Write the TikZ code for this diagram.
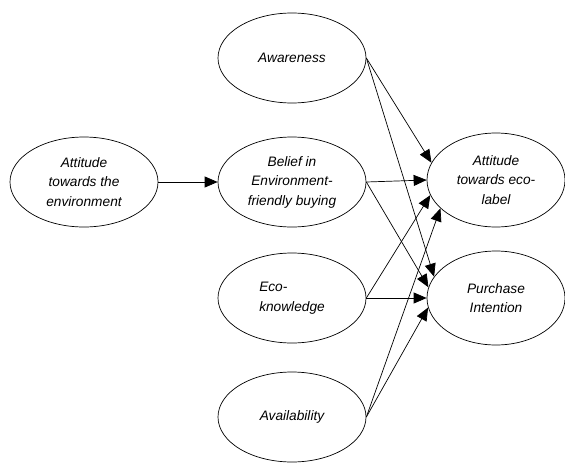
\documentclass[tikz,border=0pt]{standalone}
\usepackage{fontspec}
\setmainfont{Liberation Sans}
\usetikzlibrary{shapes.geometric,arrows.meta}

\begin{document}
\begin{tikzpicture}[x=1pt,y=1pt,
    construct/.style={ellipse,draw,line width=0.7pt,inner sep=0pt,
        minimum width=148pt,minimum height=90pt,align=center,
        font=\fontsize{13.7}{19.5}\selectfont\itshape},
    link/.style={line width=0.7pt,-{Triangle[length=13pt,width=11pt]}}]

\useasboundingbox (0,0) rectangle (565,-463);

\node[construct] (env) at (84,-182) {Attitude\\towards the\\environment};
\node[construct] (aware) at (292,-58) {Awareness};
\node[construct] (belief) at (292,-182) {Belief in\\Environment-\\friendly buying};
\node[construct,align=left] (know) at (292,-298) {Eco-\\knowledge};
\node[construct] (avail) at (292,-417) {Availability};
\node[construct,minimum width=138pt,minimum height=94pt] (label) at (496,-180) {Attitude\\towards eco-\\label};
\node[construct,minimum width=138pt,minimum height=94pt] (intent) at (496,-298) {Purchase\\Intention};

\draw[link] (env.east) -- (belief.west);

\draw[link] (aware.east) -- (label.165);
\draw[link] (aware.east) -- (intent.161);
\draw[link] (belief.east) -- (label.west);
\draw[link] (belief.east) -- (intent.171);
\draw[link] (know.east) -- (label.193);
\draw[link] (know.east) -- (intent.west);
\draw[link] (avail.east) -- (label.207);
\draw[link] (avail.east) -- (intent.188);

\end{tikzpicture}
\end{document}
